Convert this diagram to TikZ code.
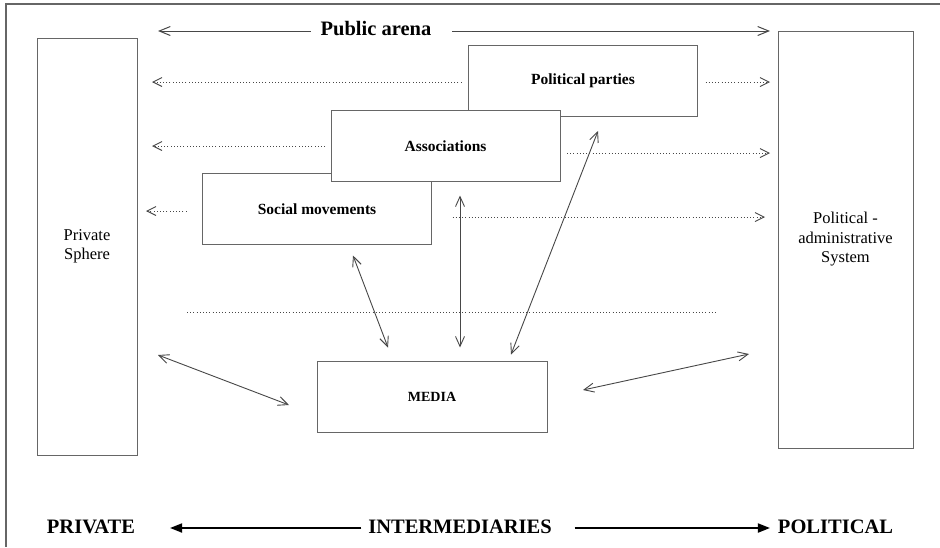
\documentclass[tikz,border=0pt]{standalone}
\usepackage{fontspec}
\setmainfont{Liberation Serif}
\usetikzlibrary{arrows.meta}
\newcommand*{\boxfont}{\fontsize{16.5}{19.5}\selectfont}
\newcommand*{\headfont}{\fontsize{20.5}{24}\selectfont\bfseries}
\definecolor{frame}{gray}{0.40}
\definecolor{boxline}{gray}{0.40}
\definecolor{arrowline}{gray}{0.28}
\tikzstyle{base}=[x=1pt, y=-1pt, inner sep=0pt, outer sep=0pt]
\tikzstyle{sphere}=[draw=boxline, line width=1pt, fill=white, align=center, font=\boxfont]
\tikzstyle{actor}=[draw=boxline, line width=1pt, fill=white, minimum width=229pt, minimum height=71pt, font=\fontsize{15.5}{18}\selectfont\bfseries]
\tikzstyle{flow}=[draw=arrowline, line width=0.9pt, dash pattern=on 0.9pt off 2.3pt, -{Straight Barb[length=9pt,width=9pt]}]
\tikzstyle{link}=[draw=arrowline, line width=0.9pt, {Straight Barb[length=10pt,width=9pt]}-{Straight Barb[length=10pt,width=9pt]}]
\tikzstyle{axis}=[draw=black, line width=1.8pt, -{Triangle[length=12pt,width=9pt]}]

\begin{document}
\begin{tikzpicture}[base]
    \path [use as bounding box] (0,0) rectangle (940,547);
    \draw [frame, line width=1.4pt] (940,4) -- (6,4) -- (6,547);

    \node [sphere, minimum width=100pt, minimum height=417pt] (private) at (87,246.5) {Private\\Sphere};
    \node [sphere, minimum width=135pt, minimum height=417pt] (polsys) at (845.5,239.5) {Political -\\administrative\\System};

    \node [actor] (parties) at (583,80.5) {Political parties};
    \node [actor] (social) at (317,209) {Social movements};
    \node [actor] (assoc) at (445.5,146) {Associations};
    \node [actor, minimum width=230pt, font=\fontsize{14}{16}\selectfont\bfseries] (media) at (432,397) {MEDIA};

    \node [font=\headfont] (pubarena) at (376,29) {Public arena};
    \draw [arrowline, line width=1pt, -{Straight Barb[length=11pt,width=9pt]}] ([xshift=-10pt]pubarena.west |- 0,31) -- ([xshift=21pt]private.east |- 0,31);
    \draw [arrowline, line width=1pt, -{Straight Barb[length=11pt,width=9pt]}] ([xshift=21pt]pubarena.east |- 0,31) -- ([xshift=-8pt]polsys.west |- 0,31);

    \draw [flow] ([xshift=-7pt]parties.west |- 0,82) -- ([xshift=15pt]private.east |- 0,82);
    \draw [flow] ([xshift=8pt]parties.east |- 0,82) -- ([xshift=-8pt]polsys.west |- 0,82);
    \draw [flow] ([xshift=-6pt]assoc.west |- 0,146) -- ([xshift=15pt]private.east |- 0,146);
    \draw [flow] ([xshift=7pt]assoc.east |- 0,153) -- ([xshift=-8pt]polsys.west |- 0,153);
    \draw [flow] ([xshift=-16pt]social.west |- 0,211) -- ([xshift=9pt]private.east |- 0,211);
    \draw [flow] ([xshift=21pt]social.east |- 0,217) -- ([xshift=-13pt]polsys.west |- 0,217);

    \coordinate (sepL) at (187,312);
    \coordinate (sepR) at (716,312);
    \draw [arrowline, line width=0.9pt, dash pattern=on 0.9pt off 2.3pt] (sepL) -- (sepR);

    \draw [link] ([xshift=36pt,yshift=-11pt]social.south) -- ([xshift=-44pt,yshift=14pt]media.north);
    \draw [link] ([xshift=14.5pt,yshift=-14pt]assoc.south) -- ([xshift=28pt,yshift=14pt]media.north);
    \draw [link] ([xshift=15pt,yshift=-15pt]parties.south) -- ([xshift=79pt,yshift=7pt]media.north);
    \draw [link] ([xshift=21pt,yshift=-108.5pt]private.east) -- ([xshift=-28pt,yshift=-8pt]media.west);
    \draw [link] ([xshift=36pt,yshift=7pt]media.east) -- ([xshift=-29pt,yshift=-114.5pt]polsys.west);

    \node [font=\headfont] (privlabel) at (91,527) {PRIVATE};
    \node [font=\headfont] (intlabel) at (460,527) {INTERMEDIARIES};
    \node [font=\headfont] (pollabel) at (835.5,527) {POLITICAL};
    \draw [axis] ([xshift=-7pt]intlabel.west |- 0,528) -- ([xshift=35pt]privlabel.east |- 0,528);
    \draw [axis] ([xshift=23pt]intlabel.east |- 0,528) -- ([xshift=-8pt]pollabel.west |- 0,528);
\end{tikzpicture}
\end{document}
